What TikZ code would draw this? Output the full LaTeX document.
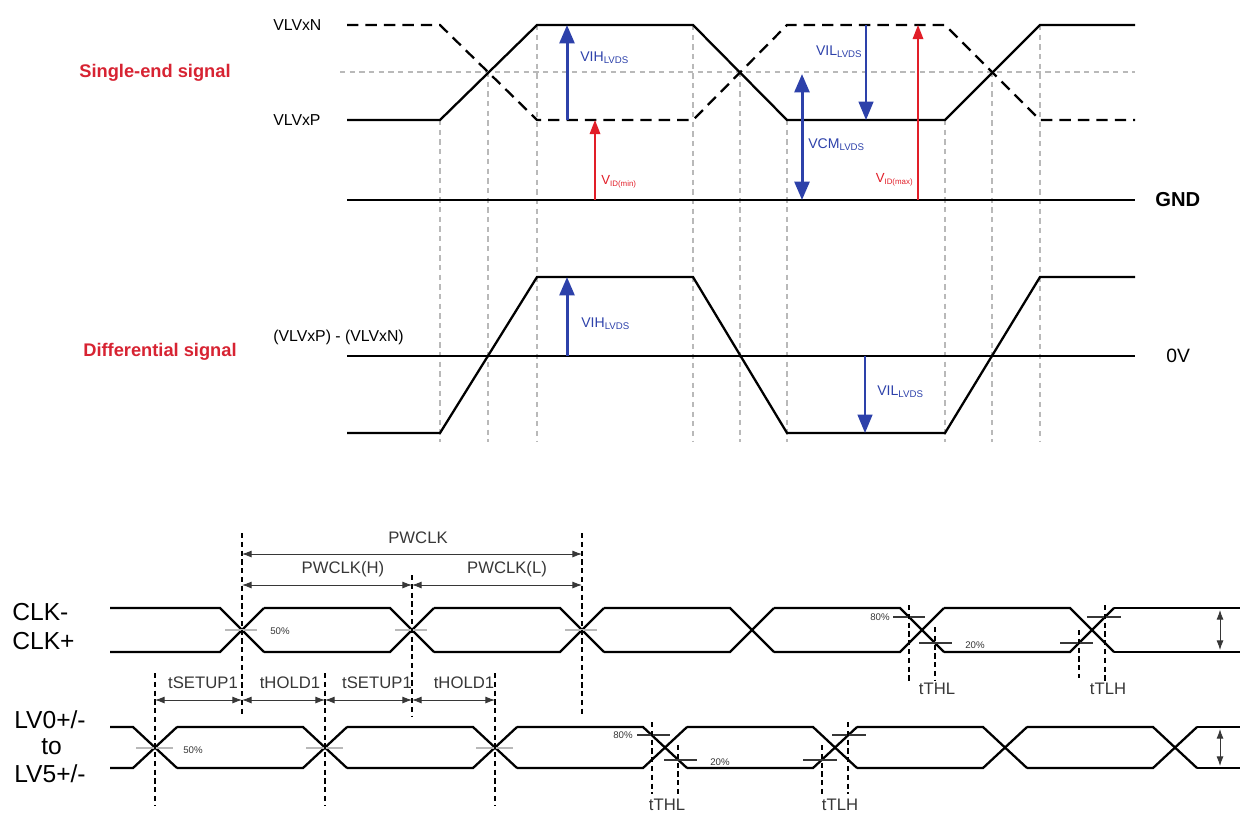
\documentclass[tikz,border=0pt]{standalone}
\usepackage{fontspec}
\setmainfont{Liberation Sans}
\usetikzlibrary{arrows.meta}

\definecolor{arrblue}{RGB}{45,65,170}
\definecolor{arrred}{RGB}{225,30,40}
\definecolor{lblred}{RGB}{215,35,50}
\definecolor{guidegray}{RGB}{185,185,185}
\definecolor{txtgray}{RGB}{55,55,55}

\newcommand{\lvdssub}{\raisebox{-0.3ex}{\fontsize{5.5}{6}\selectfont LVDS}}
\newcommand{\vidsub}[1]{V\raisebox{-0.3ex}{\fontsize{4.5}{5}\selectfont ID(#1)}}

\tikzset{
  sig/.style={line width=1.3pt},
  sigN/.style={line width=1.3pt, dash pattern=on 6.5pt off 4pt},
  guide/.style={draw=guidegray, line width=0.6pt, dash pattern=on 3pt off 2.5pt},
  blarr/.style={draw=arrblue, line width=1.7pt, -{Triangle[width=8.5pt,length=10.5pt]}},
  blthin/.style={draw=arrblue, line width=0.9pt, -{Triangle[width=8.5pt,length=10.5pt]}},
  redarr/.style={draw=arrred, line width=0.9pt, -{Triangle[width=6pt,length=8pt]}},
  dimarr/.style={draw=txtgray, line width=0.5pt, {Latex[length=5.5pt,width=4pt]}-{Latex[length=5.5pt,width=4pt]}},
  vline/.style={line width=0.6pt, dash pattern=on 3pt off 2pt},
  halfmark/.style={draw=guidegray, line width=0.8pt},
  levtick/.style={draw=txtgray, line width=0.6pt},
  lvl/.style={font=\fontsize{9}{10}\selectfont, anchor=west, inner sep=0pt},
  sect/.style={font=\fontsize{10.4}{12}\selectfont\bfseries, text=lblred, inner sep=0pt},
  bltxt/.style={font=\fontsize{8}{9}\selectfont, text=arrblue, inner sep=0pt},
  rdtxt/.style={font=\fontsize{7.5}{8}\selectfont, text=arrred, inner sep=0pt},
  tim/.style={font=\fontsize{9.5}{11}\selectfont, text=txtgray, inner sep=0pt},
  pct/.style={font=\fontsize{5.5}{6}\selectfont, text=txtgray, inner sep=0pt},
  pin/.style={font=\fontsize{14}{16}\selectfont, anchor=west, inner sep=0pt}
}

\begin{document}
\begin{tikzpicture}[x=0.02cm, y=-0.02cm]
\useasboundingbox (0,0) rectangle (1240,816);

% single-end signal
\draw[guide] (340,72) -- (1135,72);
\foreach \x/\y in {440/120,488/72,537/25,693/25,740/72,787/120,945/120,992/72,1040/25}
  \draw[guide] (\x,\y) -- (\x,442);
\draw[sig] (347,120) -- (440,120) -- (537,25) -- (693,25) -- (787,120) -- (945,120) -- (1040,25) -- (1135,25);
\draw[sigN] (347,25) -- (440,25) -- (537,120) -- (693,120) -- (787,25) -- (945,25) -- (1040,120) -- (1135,120);
\draw[sig] (347,200) -- (1135,200);

\node[sect] (single) at (155,73) {Single-end signal};
\node[lvl] (vlvxn) at (273,25) {VLVxN};
\node[lvl] (vlvxp) at (273,120) {VLVxP};
\node[font=\fontsize{11.5}{13}\selectfont\bfseries, anchor=west, inner sep=0pt] (gnd) at (1155,200) {GND};

\draw[blarr] (567,120) -- (567,25);
\node[bltxt, anchor=west] (vih) at (580,58) {VIH\lvdssub};
\draw[redarr] (595,200) -- (595,120);
\node[rdtxt, anchor=west] (vidmin) at (601,182) {\vidsub{min}};
\draw[blarr, {Triangle[width=8.5pt,length=10.5pt]}-{Triangle[width=8.5pt,length=10.5pt]}] (802,74) -- (802,200);
\node[bltxt, anchor=west] (vcm) at (808,145) {VCM\lvdssub};
\draw[blthin] (866,25) -- (866,120);
\node[bltxt, anchor=east] (vil) at (862,52) {VIL\lvdssub};
\draw[redarr] (918,200) -- (918,25);
\node[rdtxt, anchor=east] (vidmax) at (913,180) {\vidsub{max}};

% differential signal
\draw[sig] (347,356) -- (1135,356);
\draw[sig] (347,433) -- (440,433) -- (537,277) -- (693,277) -- (787,433) -- (945,433) -- (1040,277) -- (1135,277);
\node[sect] (diff) at (160,352) {Differential signal};
\node[lvl] (pminn) at (273,337) {(VLVxP) - (VLVxN)};
\node[font=\fontsize{11}{13}\selectfont, anchor=west, inner sep=0pt] (zerov) at (1166,356) {0V};
\draw[blarr] (567,356) -- (567,277);
\node[bltxt, anchor=west] (dvih) at (581,324) {VIH\lvdssub};
\draw[blthin] (865,356) -- (865,433);
\node[bltxt, anchor=west] (dvil) at (877,392) {VIL\lvdssub};

% CLK timing
\foreach \c [remember=\c as \p (initially 88)] in {242,412,582,752,922,1092}{
  \draw[sig] (\p+22,608) -- (\c-22,608) -- (\c+22,652);
  \draw[sig] (\p+22,652) -- (\c-22,652) -- (\c+22,608);
}
\draw[sig] (1114,608) -- (1240,608);
\draw[sig] (1114,652) -- (1240,652);
\foreach \c in {242,412,582}
  \draw[halfmark] (\c-17,630) -- (\c+15,630);
\node[pct, anchor=west] (clkhalf) at (270,631) {50\%};

\draw[vline] (242,533) -- (242,717);
\draw[vline] (412,575) -- (412,717);
\draw[vline] (582,533) -- (582,717);
\draw[dimarr] (242,554) -- (582,554);
\draw[dimarr] (242,585) -- (412,585);
\draw[dimarr] (412,585) -- (582,585);
\node[tim] (pwclk) at (418,538) {PWCLK};
\node[tim] (pwclkh) at (343,569) {PWCLK(H)};
\node[tim] (pwclkl) at (507,569) {PWCLK(L)};

\node[pin] (clkm) at (12,612) {CLK-};
\node[pin] (clkp) at (12,641) {CLK+};

% CLK rise / fall
\draw[levtick] (893,617) -- (925,617);
\draw[levtick] (919,643) -- (952,643);
\draw[vline] (909,605) -- (909,681);
\draw[vline] (935,627) -- (935,681);
\node[pct, anchor=east] (clk80) at (890,617) {80\%};
\node[pct, anchor=west] (clk20) at (965,645) {20\%};
\node[tim] (clkthl) at (937,689) {tTHL};
\draw[levtick] (1087,617) -- (1121,617);
\draw[levtick] (1060,643) -- (1093,643);
\draw[vline] (1079,630) -- (1079,678);
\draw[vline] (1105,605) -- (1105,681);
\node[tim] (clktlh) at (1108,689) {tTLH};
\draw[dimarr] (1220,610) -- (1220,650);

% LV0..LV5 timing
\foreach \c [remember=\c as \p (initially 88)] in {155,325,495,665,835,1005,1175}{
  \draw[sig] (\p+22,727) -- (\c-22,727) -- (\c+22,768);
  \draw[sig] (\p+22,768) -- (\c-22,768) -- (\c+22,727);
}
\draw[sig] (1197,727) -- (1240,727);
\draw[sig] (1197,768) -- (1240,768);
\foreach \c in {155,325,495}
  \draw[halfmark] (\c-19,748) -- (\c+18,748);
\node[pct, anchor=west] (lvhalf) at (183,750) {50\%};

\foreach \x in {155,325,495}
  \draw[vline] (\x,673) -- (\x,805);
\draw[dimarr] (155,700) -- (242,700);
\draw[dimarr] (242,700) -- (325,700);
\draw[dimarr] (325,700) -- (412,700);
\draw[dimarr] (412,700) -- (495,700);
\node[tim] (setupa) at (203,683) {tSETUP1};
\node[tim] (holda) at (290,683) {tHOLD1};
\node[tim] (setupb) at (377,683) {tSETUP1};
\node[tim] (holdb) at (464,683) {tHOLD1};

\node[pin] (lvz) at (14,720) {LV0+/-};
\node[pin] (lvto) at (41,747) {to};
\node[pin] (lvf) at (14,774) {LV5+/-};

% LV rise / fall
\draw[levtick] (637,735) -- (670,735);
\draw[levtick] (664,760) -- (697,760);
\draw[vline] (652,722) -- (652,794);
\draw[vline] (678,745) -- (678,794);
\node[pct, anchor=east] (lv80) at (633,735) {80\%};
\node[pct, anchor=west] (lv20) at (710,762) {20\%};
\node[tim] (lvthl) at (667,805) {tTHL};
\draw[levtick] (832,735) -- (866,735);
\draw[levtick] (803,760) -- (837,760);
\draw[vline] (822,745) -- (822,794);
\draw[vline] (848,722) -- (848,794);
\node[tim] (lvtlh) at (840,805) {tTLH};
\draw[dimarr] (1220,729) -- (1220,766);
\end{tikzpicture}
\end{document}
